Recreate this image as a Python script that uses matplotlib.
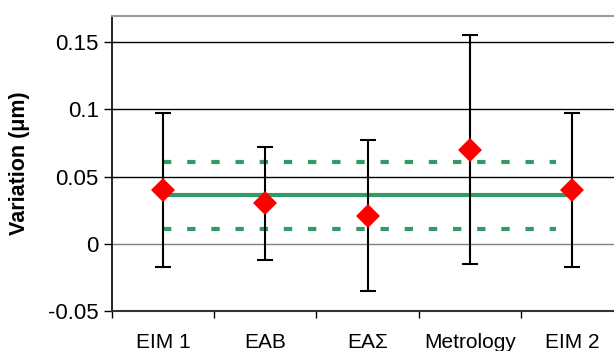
import matplotlib.pyplot as plt
import numpy as np

plt.rcParams['font.family'] = ['Liberation Sans', 'DejaVu Sans']

labs = ['EIM 1', 'EAB', 'EA\u03a3', 'Metrology', 'EIM 2']
vals = [0.040, 0.030, 0.021, 0.070, 0.040]
errs = [0.057, 0.042, 0.056, 0.085, 0.057]
ref_mean = 0.036
ref_hi = 0.061
ref_lo = 0.011

x = np.arange(len(labs))

fig = plt.figure(figsize=(6.14, 3.51), dpi=100)
ax = fig.add_axes([112/614, 1 - 311/351, 511/614, 295/351])

# grid lines
for yv in [0.05, 0.1, 0.15]:
    ax.axhline(yv, color='black', lw=1, zorder=0)
ax.axhline(0, color='#808080', lw=1, zorder=0)

# reference lines
green = '#339966'
ax.plot([x[0], x[-1]], [ref_mean] * 2, color=green, lw=3, zorder=1)
ax.plot([x[0], x[-1] - 0.16], [ref_hi] * 2, color=green, lw=3, ls=(0, (2.0, 3.8)), zorder=1)
ax.plot([x[0], x[-1] - 0.16], [ref_lo] * 2, color=green, lw=3, ls=(0, (2.0, 3.8)), zorder=1)

ax.errorbar(x, vals, yerr=errs, fmt='none', ecolor='black', elinewidth=1.5,
            capsize=5.6, capthick=1.5, zorder=2)
ax.plot(x, vals, ls='none', marker='D', color='#ff0000', markersize=12.5,
        markeredgewidth=0, zorder=3)

ax.set_xlim(-0.5, 4.5)
ax.set_ylim(-0.05, 0.1695)
ax.set_yticks([-0.05, 0, 0.05, 0.1, 0.15])
ax.set_yticklabels(['-0.05', '0', '0.05', '0.1', '0.15'])
ax.set_xticks(x)
ax.set_xticklabels(labs)
ax.set_xticks(np.arange(-0.5, 5, 1), minor=True)
ax.tick_params(axis='x', which='major', length=0, pad=16, labelsize=15)
ax.tick_params(axis='x', which='minor', length=5, width=1)
ax.tick_params(axis='y', length=6, width=1, labelsize=16)

ax.spines['top'].set_color('#999999')
ax.spines['top'].set_linewidth(1.5)
ax.spines['right'].set_visible(False)
ax.spines['left'].set_linewidth(1.2)
ax.spines['bottom'].set_linewidth(1.5)
ax.spines['bottom'].set_color('#333333')

ax.set_ylabel('Variation (\u03bcm)', fontsize=15.5, fontweight='bold', labelpad=13)

fig.savefig('out.png', dpi=100)
